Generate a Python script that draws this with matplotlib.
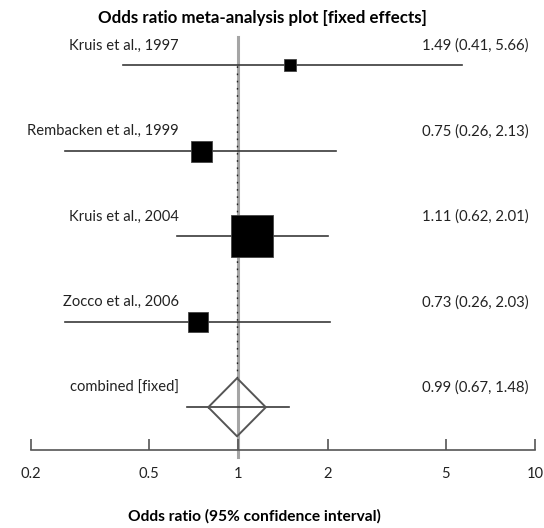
import numpy as np
import matplotlib.pyplot as plt
from matplotlib.transforms import blended_transform_factory

plt.rcParams['font.family'] = ['Lato', 'DejaVu Sans']

# Study data
studies = ["Kruis et al., 1997", "Rembacken et al., 1999", "Kruis et al., 2004",
           "Zocco et al., 2006"]
odds = [1.49, 0.75, 1.11, 0.73]
lower = [0.41, 0.26, 0.62, 0.26]
upper = [5.66, 2.13, 2.01, 2.03]

combined_label = "combined [fixed]"
combined_or = 0.99
combined_lo = 0.67
combined_hi = 1.48

tick_vals = [0.2, 0.5, 1, 2, 5, 10]
tick_labels = ["0.2", "0.5", "1", "2", "5", "10"]

# box sides (px) ~ study weight
box_px = [12, 21, 43, 20]

W, H = 544, 528
fig = plt.figure(figsize=(W / 100, H / 100), dpi=100)
ax = fig.add_axes([31 / W, (H - 450) / H, 504 / W, 413 / H])
ax.set_xscale('log')
ax.set_xlim(0.2, 10)
ax.set_ylim(0.5, 5.33)

n = len(studies)
ys = np.arange(n + 1, 1, -1)  # 5,4,3,2 ; combined at 1
line_col = '#3a3a3a'

# reference line at 1
ax.plot([1, 1], [0.42, 5.33], color='#a5a5a5', lw=2.2, clip_on=False, zorder=1)
# dotted line at the pooled estimate
ax.plot([combined_or, combined_or], [1.34, ys[0]], color='#222222', lw=1.0,
        linestyle=(0, (1.2, 4)), zorder=2)

for i in range(n):
    ax.plot([lower[i], upper[i]], [ys[i], ys[i]], color=line_col, lw=1.2, zorder=3)
    ax.plot(odds[i], ys[i], marker='s', ms=box_px[i] * 0.72, color='black',
            mec='#444444', mew=0.6, zorder=4)

# combined
ax.plot([combined_lo, combined_hi], [1, 1], color=line_col, lw=1.2, zorder=3)
hw = 0.097
dh = 0.34
dx = [combined_or * 10 ** -hw, combined_or, combined_or * 10 ** hw, combined_or,
      combined_or * 10 ** -hw]
dy = [1, 1 + dh, 1, 1 - dh, 1]
ax.plot(dx, dy, color='#555555', lw=1.4, zorder=4)

# labels
tr = blended_transform_factory(ax.transAxes, ax.transData)
all_labels = studies + [combined_label]
all_or = odds + [combined_or]
all_lo = lower + [combined_lo]
all_hi = upper + [combined_hi]
for i, y in enumerate(list(ys) + [1]):
    ax.annotate(all_labels[i], xy=(0.2937, y), xycoords=tr, xytext=(0, 14),
                textcoords='offset points', ha='right', va='center',
                fontsize=10.6, color='#222222')
    ax.annotate(f"{all_or[i]:.2f} ({all_lo[i]:.2f}, {all_hi[i]:.2f})",
                xy=(0.776, y), xycoords=tr, xytext=(0, 14),
                textcoords='offset points', ha='left', va='center',
                fontsize=10.7, color='#222222')

# axis styling
for s in ['top', 'right', 'left']:
    ax.spines[s].set_visible(False)
ax.spines['bottom'].set_color('#555555')
ax.spines['bottom'].set_linewidth(1.2)
ax.set_yticks([])
ax.set_xticks(tick_vals)
ax.set_xticklabels(tick_labels)
ax.minorticks_off()
ax.tick_params(axis='x', direction='in', length=8, width=1.2, color='#555555',
               pad=12, labelsize=10.6, labelcolor='#222222')
ax.patch.set_alpha(0)

fig.text(262 / W, 1 - 18 / H, "Odds ratio meta-analysis plot [fixed effects]",
         ha='center', va='center', fontsize=12.2, fontweight='bold')
fig.text(254 / W, 1 - 516 / H, "Odds ratio (95% confidence interval)",
         ha='center', va='center', fontsize=11.2, fontweight='bold')

fig.savefig('out.png', dpi=100)
